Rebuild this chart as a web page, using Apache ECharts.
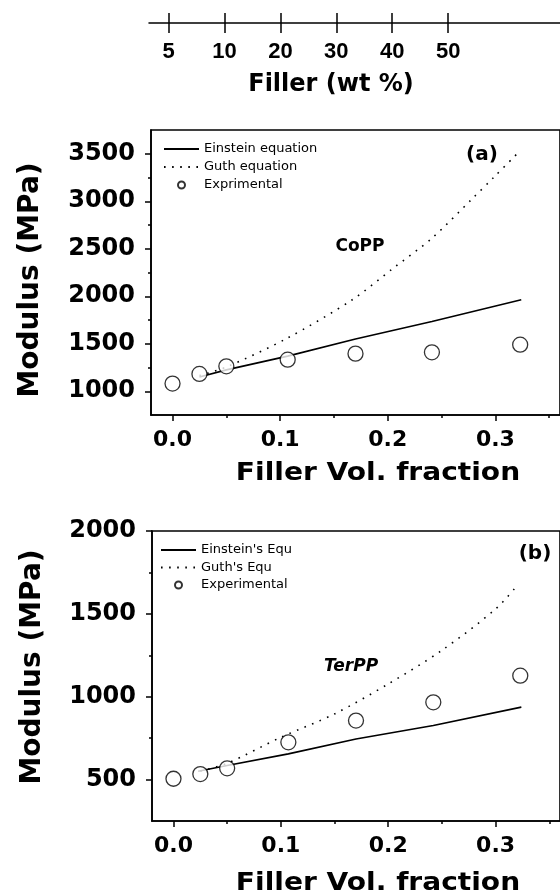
<!DOCTYPE html>
<html>
<head>
<meta charset="utf-8">
<script src="https://cdn.jsdelivr.net/npm/echarts@6/dist/echarts.min.js"></script>
<style>html,body{margin:0;background:#fff}#chart{width:560px;height:896px}</style>
</head>
<body>
<div id="chart"></div>
<script>
// top axis, filler weight %
var wtLabels=['5','10','20','30','40','50'];
// vol fraction ticks
var volMajor=[0,0.1,0.2,0.3];
var volMinor=[0.05,0.15,0.25,0.35];
// panel (a) CoPP
var aMajor=[1000,1500,2000,2500,3000,3500];
var aMinor=[1250,1750,2250,2750,3250];
var aNames=['Einstein equation','Guth equation','Exprimental'];
var aEinstein=[[0.025,1150],[0.05,1225],[0.107,1370],[0.17,1550],[0.241,1735],[0.324,1963]];
var aGuth=[[0.025,1165],[0.05,1255],[0.106,1555],[0.167,1963],[0.204,2286],[0.241,2611],[0.278,3021],[0.299,3258],[0.321,3510]];
var aExp=[[0,1081],[0.025,1182],[0.05,1262],[0.107,1332],[0.17,1396],[0.241,1410],[0.323,1490]];
// panel (b) TerPP
var bMajor=[500,1000,1500,2000];
var bMinor=[750,1250,1750];
var bNames=["Einstein's Equ","Guth's Equ",'Experimental'];
var bEinstein=[[0.023,550],[0.05,585],[0.107,655],[0.17,745],[0.242,826],[0.324,937]];
var bGuth=[[0.025,550],[0.05,598],[0.1,755],[0.15,896],[0.2,1077],[0.25,1280],[0.3,1529],[0.32,1670]];
var bExp=[[0,505],[0.025,533],[0.05,568],[0.107,725],[0.17,856],[0.242,966],[0.323,1127]];

var mychart=echarts.init(document.getElementById('chart'));
var bold='DejaVu Sans';
var wtPos=wtLabels.map(function(d,i){return i;});

function volAxis(g,major){
    if(major){
        return {type:'value',gridIndex:g,position:'bottom',min:-0.02,max:0.36,
            axisLine:{onZero:false,lineStyle:{color:'#000',width:1.6}},
            axisTick:{customValues:volMajor,length:6,lineStyle:{color:'#000',width:1.5}},
            axisLabel:{customValues:volMajor,margin:14,color:'#000',fontFamily:bold,fontWeight:'bold',fontSize:22,
                formatter:function(v){return v.toFixed(1);}},
            splitLine:{show:false}};
    }
    return {type:'value',gridIndex:g,position:'bottom',min:-0.02,max:0.36,axisLine:{show:false,onZero:false},
        axisTick:{show:true,customValues:volMinor,length:3,lineStyle:{color:'#000',width:1.5}},
        axisLabel:{show:false},splitLine:{show:false}};
}
function modAxis(g,mn,mx,ticks,major){
    return {type:'value',gridIndex:g,position:'left',min:mn,max:mx,
        axisLine:{show:major,onZero:false,lineStyle:{color:'#000',width:1.6}},
        axisTick:{show:true,customValues:ticks,length:major?6:3,lineStyle:{color:'#000',width:1.5}},
        axisLabel:{show:major,customValues:ticks,margin:16,color:'#000',fontFamily:bold,fontWeight:'bold',fontSize:24,
            formatter:function(v){return String(v);}},
        splitLine:{show:false}};
}
function panel(i,names,ein,guth,exp){
    // symbols hidden, opacity 0 keeps the legend icon a bare line
    return [
        {name:names[0],type:'line',xAxisIndex:2*i,yAxisIndex:2*i,data:ein,showSymbol:false,
            lineStyle:{color:'#000',width:1.6},itemStyle:{color:'#000',opacity:0}},
        {name:names[1],type:'line',xAxisIndex:2*i,yAxisIndex:2*i,data:guth,showSymbol:false,smooth:0.3,
            lineStyle:{color:'#000',width:1.6,type:[1.6,6.5]},itemStyle:{color:'#000',opacity:0}},
        {name:names[2],type:'scatter',xAxisIndex:2*i,yAxisIndex:2*i,data:exp,symbol:'circle',symbolSize:15,z:5,
            itemStyle:{color:'#fff',borderColor:'#000',borderWidth:1.3}}
    ];
}
function legend(names,left,top,gap){
    return {data:names,orient:'vertical',left:left,top:top,padding:0,itemGap:gap,
        itemWidth:35,itemHeight:7,selectedMode:false,
        textStyle:{color:'#000',fontFamily:'DejaVu Sans',fontSize:13,lineHeight:14}};
}
function txt(x,y,s,size,opt){
    var o={type:'text',x:x,y:y,style:{text:s,fill:'#000',fontFamily:bold,fontWeight:'bold',
        fontSize:size,align:'center',verticalAlign:'middle'}};
    if(opt){for(var k in opt){if(k==='fontStyle'){o.style.fontStyle=opt[k];}else{o[k]=opt[k];}}}
    return o;
}

var option={
    animation:false,
    backgroundColor:'#fff',
    grid:[
        {left:151,top:130,width:427,height:285,show:true,borderColor:'#000',borderWidth:1.6},
        {left:152,top:531,width:433,height:290,show:true,borderColor:'#000',borderWidth:1.6},
        {left:149,top:13,width:443,height:10}
    ],
    xAxis:[
        volAxis(0,true),volAxis(0,false),volAxis(1,true),volAxis(1,false),
        {type:'value',gridIndex:2,position:'bottom',min:-0.35,max:7,
            axisLine:{onZero:false,lineStyle:{color:'#000',width:1.5}},
            axisTick:{inside:true,customValues:wtPos,length:10,lineStyle:{color:'#000',width:1.5}},
            axisLabel:{show:false},splitLine:{show:false}},
        {type:'value',gridIndex:2,position:'bottom',min:-0.35,max:7,axisLine:{show:false,onZero:false},
            axisTick:{show:true,customValues:wtPos,length:10,lineStyle:{color:'#000',width:1.5}},
            axisLabel:{customValues:wtPos,margin:18,color:'#000',
                fontFamily:'Liberation Sans',fontWeight:'bold',fontSize:22,
                formatter:function(v){return wtLabels[Math.round(v)];}},
            splitLine:{show:false}}
    ],
    yAxis:[
        modAxis(0,750,3750,aMajor,true),modAxis(0,750,3750,aMinor,false),
        modAxis(1,250,2000,bMajor,true),modAxis(1,250,2000,bMinor,false),
        {type:'value',gridIndex:2,min:0,max:1,show:false}
    ],
    legend:[legend(aNames,163,142,4),legend(bNames,160,543,3.5)],
    series:panel(0,aNames,aEinstein,aGuth,aExp).concat(panel(1,bNames,bEinstein,bGuth,bExp)),
    graphic:[
        txt(331,85,'Filler (wt %)',24),
        txt(31,280,'Modulus (MPa)',28,{rotation:Math.PI/2}),
        txt(33,667,'Modulus (MPa)',28,{rotation:Math.PI/2}),
        txt(378,474,'Filler Vol. fraction',24,{scaleX:1.17}),
        txt(378,884,'Filler Vol. fraction',24,{scaleX:1.17}),
        txt(482,155,'(a)',20),
        txt(535,554,'(b)',20),
        txt(360,247,'CoPP',17),
        txt(351,667,'TerPP',17,{fontStyle:'italic'})
    ]
};
mychart.setOption(option);
</script>
</body>
</html>
